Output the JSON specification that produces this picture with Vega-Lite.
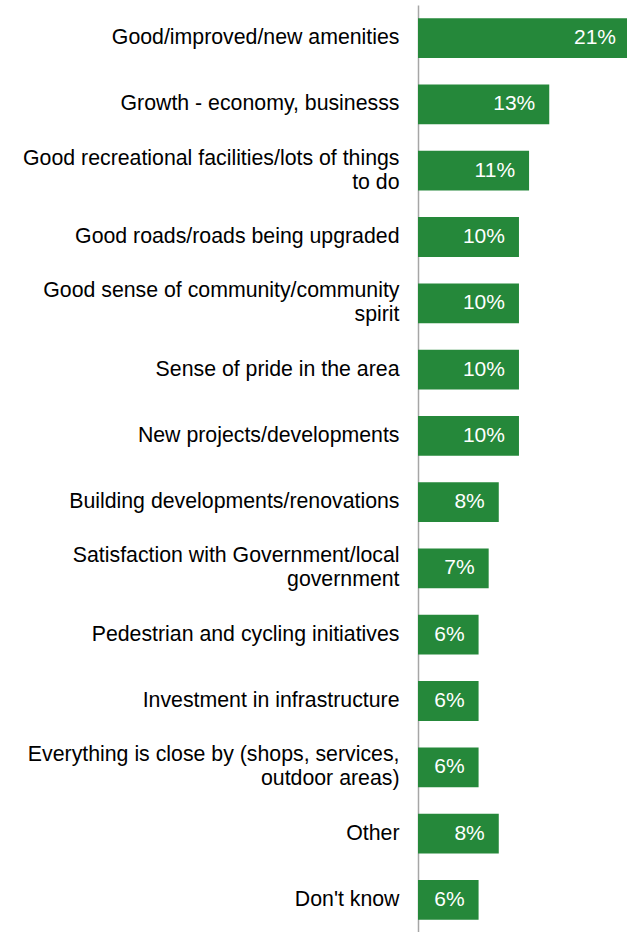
{
  "$schema": "https://vega.github.io/schema/vega-lite/v6.json",
  "autosize": "none",
  "width": 209,
  "height": 928,
  "padding": {"left": 418, "top": 5, "right": 0, "bottom": 0},
  "background": "white",
  "config": {"view": {"stroke": null}, "font": "Liberation Sans"},
  "data": {
    "values": [
      {"item": "Good/improved/new amenities", "pct": 0.21},
      {"item": "Growth - economy, businesss", "pct": 0.13},
      {"item": "Good recreational facilities/lots of things|to do", "pct": 0.11},
      {"item": "Good roads/roads being upgraded", "pct": 0.10},
      {"item": "Good sense of community/community|spirit", "pct": 0.10},
      {"item": "Sense of pride in the area", "pct": 0.10},
      {"item": "New projects/developments", "pct": 0.10},
      {"item": "Building developments/renovations", "pct": 0.08},
      {"item": "Satisfaction with Government/local|government", "pct": 0.07},
      {"item": "Pedestrian and cycling initiatives", "pct": 0.06},
      {"item": "Investment in infrastructure", "pct": 0.06},
      {"item": "Everything is close by (shops, services,|outdoor areas)", "pct": 0.06},
      {"item": "Other", "pct": 0.08},
      {"item": "Don't know", "pct": 0.06}
    ]
  },
  "encoding": {
    "y": {
      "field": "item",
      "type": "nominal",
      "sort": null,
      "scale": {"paddingInner": 0.4, "paddingOuter": 0.2},
      "axis": {
        "title": null,
        "ticks": false,
        "labelExpr": "split(datum.label, '|')",
        "labelFont": "Liberation Sans",
        "labelFontSize": 21.3,
        "labelColor": "#000000",
        "labelLineHeight": 24,
        "labelPadding": 19,
        "labelLimit": 420,
        "labelOffset": {"condition": {"test": "indexof(datum.value, '|') >= 0", "value": -12}, "value": 0},
        "domainColor": "#A6A6A6",
        "domainWidth": 1.5
      }
    },
    "x": {
      "field": "pct",
      "type": "quantitative",
      "scale": {"domain": [0, 0.207], "nice": false},
      "axis": null
    }
  },
  "layer": [
    {"mark": {"type": "bar", "color": "#25883A"}},
    {
      "mark": {"type": "text", "align": "right", "baseline": "middle", "dx": -14, "color": "white", "font": "Liberation Sans", "fontSize": 21},
      "encoding": {"text": {"field": "pct", "type": "quantitative", "format": ".0%"}, "x": {"field": "pct", "type": "quantitative"}}
    }
  ]
}
